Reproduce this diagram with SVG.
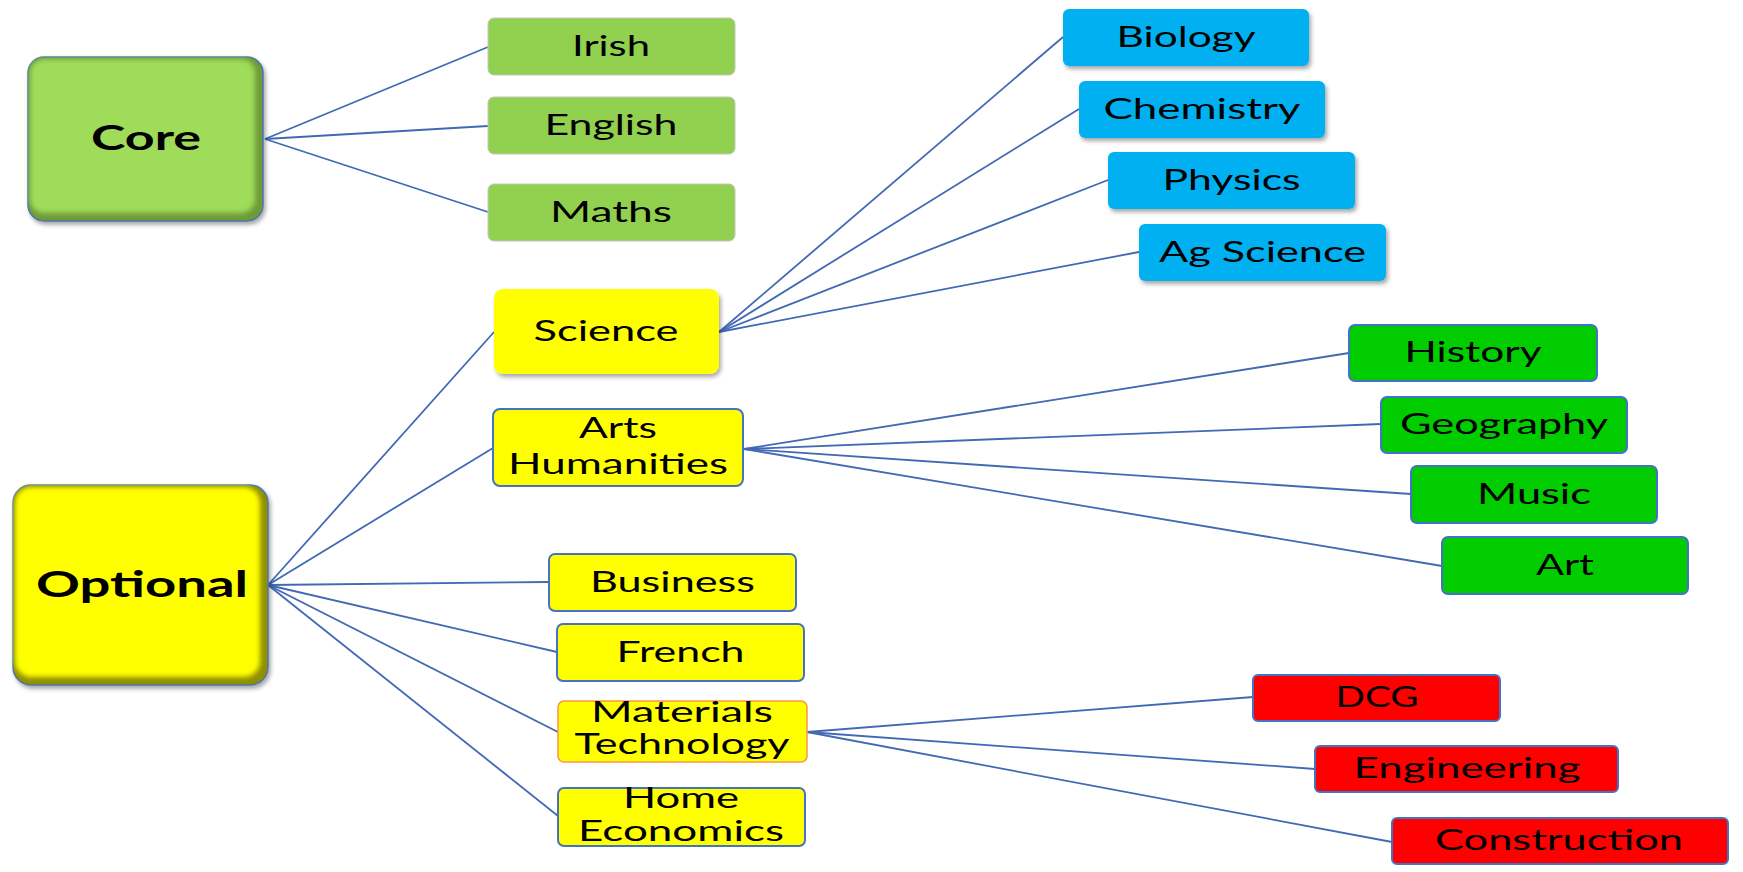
<svg xmlns="http://www.w3.org/2000/svg" width="1743" height="872" viewBox="0 0 1743 872">
<style>
.t{font-family:Lato,"Open Sans","Liberation Sans",sans-serif;font-size:28px;fill:#000;text-anchor:middle}
.b{font-family:Lato,"Open Sans","Liberation Sans",sans-serif;font-weight:bold;fill:#000;text-anchor:middle}
.lg{fill:#92D050;stroke:#C4C4C4;stroke-width:1}
.y{fill:#FFFF00;stroke:#4472C4;stroke-width:2}
.ys{fill:#FFFF00}
.ym{fill:#FFFF00;stroke:#F79646;stroke-width:1.5}
.bl{fill:#00B0F0}
.g{fill:#00CC00;stroke:#4472C4;stroke-width:2}
.r{fill:#FF0000;stroke:#4472C4;stroke-width:2}
#connectors line{stroke:#4169B4;stroke-width:1.8;fill:none}
</style>
<defs>
<filter id="sh" x="-10%" y="-20%" width="125%" height="150%">
<feDropShadow dx="2" dy="3" stdDeviation="2" flood-color="#000" flood-opacity="0.35"/>
</filter>
<filter id="soft" x="-5%" y="-5%" width="110%" height="110%">
<feGaussianBlur stdDeviation="2.5"/>
</filter>
</defs>
<rect width="1743" height="872" fill="#fff"/>
<g id="connectors">
<line x1="265" y1="139" x2="488" y2="47"/>
<line x1="265" y1="139" x2="488" y2="126"/>
<line x1="265" y1="139" x2="488" y2="212"/>
<line x1="268" y1="585" x2="494" y2="332"/>
<line x1="268" y1="585" x2="493" y2="448"/>
<line x1="268" y1="585" x2="549" y2="582"/>
<line x1="268" y1="585" x2="557" y2="652"/>
<line x1="268" y1="585" x2="558" y2="732"/>
<line x1="268" y1="585" x2="558" y2="816"/>
<line x1="719" y1="332" x2="1063" y2="37"/>
<line x1="719" y1="332" x2="1079" y2="109"/>
<line x1="719" y1="332" x2="1108" y2="180"/>
<line x1="719" y1="332" x2="1139" y2="252"/>
<line x1="744" y1="449" x2="1349" y2="353"/>
<line x1="744" y1="449" x2="1381" y2="424"/>
<line x1="744" y1="449" x2="1411" y2="494"/>
<line x1="744" y1="449" x2="1442" y2="566"/>
<line x1="807" y1="732" x2="1253" y2="697"/>
<line x1="807" y1="732" x2="1315" y2="769"/>
<line x1="807" y1="732" x2="1392" y2="842"/>
</g>
<g id="core">
<rect x="28" y="57" width="235" height="164" rx="16" fill="#6E9A38" stroke="#4A76B0" stroke-width="1.5" filter="url(#sh)"/>
<rect x="30" y="59" width="225" height="154" rx="14" fill="#9EDC5A" filter="url(#soft)"/>
<text class="b" x="146" y="150" font-size="35" textLength="110" lengthAdjust="spacingAndGlyphs">Core</text>
</g>
<g id="optional">
<rect x="13" y="485" width="255" height="200" rx="18" fill="#8F8F00" stroke="#4A76B0" stroke-width="1.5" filter="url(#sh)"/>
<rect x="15" y="487" width="245" height="190" rx="16" fill="#FFFF00" filter="url(#soft)"/>
<text class="b" x="142" y="597" font-size="37" textLength="212" lengthAdjust="spacingAndGlyphs">Optional</text>
</g>
<g id="irish"><rect class="lg" x="488" y="18" width="247" height="57" rx="6"/><text class="t" x="611" y="55.5" textLength="78" lengthAdjust="spacingAndGlyphs">Irish</text></g>
<g id="english"><rect class="lg" x="488" y="97" width="247" height="57" rx="6"/><text class="t" x="611" y="134.5" textLength="133" lengthAdjust="spacingAndGlyphs">English</text></g>
<g id="maths"><rect class="lg" x="488" y="184" width="247" height="57" rx="6"/><text class="t" x="611" y="221.5" textLength="122" lengthAdjust="spacingAndGlyphs">Maths</text></g>
<g id="science"><rect class="ys" x="494" y="289" width="225" height="85" rx="9" filter="url(#sh)"/><text class="t" x="606" y="341" textLength="145" lengthAdjust="spacingAndGlyphs">Science</text></g>
<g id="arts"><rect class="y" x="493" y="409" width="250" height="77" rx="7"/><text class="t" x="618" y="438" textLength="78" lengthAdjust="spacingAndGlyphs">Arts</text><text class="t" x="618" y="474" textLength="220" lengthAdjust="spacingAndGlyphs">Humanities</text></g>
<g id="business"><rect class="y" x="549" y="554" width="247" height="57" rx="6"/><text class="t" x="672.5" y="591.5" textLength="165" lengthAdjust="spacingAndGlyphs">Business</text></g>
<g id="french"><rect class="y" x="557" y="624" width="247" height="57" rx="6"/><text class="t" x="680.5" y="661.5" textLength="128" lengthAdjust="spacingAndGlyphs">French</text></g>
<g id="materials"><rect class="ym" x="558" y="701" width="249" height="61" rx="6"/><text class="t" x="682" y="722" textLength="182" lengthAdjust="spacingAndGlyphs">Materials</text><text class="t" x="682" y="754" textLength="215" lengthAdjust="spacingAndGlyphs">Technology</text></g>
<g id="home"><rect class="y" x="558" y="788" width="247" height="58" rx="6"/><text class="t" x="681" y="808" textLength="116" lengthAdjust="spacingAndGlyphs">Home</text><text class="t" x="681" y="841" textLength="206" lengthAdjust="spacingAndGlyphs">Economics</text></g>
<g id="biology"><rect class="bl" x="1063" y="9" width="246" height="57" rx="6" filter="url(#sh)"/><text class="t" x="1186" y="46.5" textLength="139" lengthAdjust="spacingAndGlyphs">Biology</text></g>
<g id="chemistry"><rect class="bl" x="1079" y="81" width="246" height="57" rx="6" filter="url(#sh)"/><text class="t" x="1202" y="118.5" textLength="197" lengthAdjust="spacingAndGlyphs">Chemistry</text></g>
<g id="physics"><rect class="bl" x="1108" y="152" width="247" height="57" rx="6" filter="url(#sh)"/><text class="t" x="1231.5" y="189.5" textLength="138" lengthAdjust="spacingAndGlyphs">Physics</text></g>
<g id="agscience"><rect class="bl" x="1139" y="224" width="247" height="57" rx="6" filter="url(#sh)"/><text class="t" x="1262.5" y="261.5" textLength="207" lengthAdjust="spacingAndGlyphs">Ag Science</text></g>
<g id="history"><rect class="g" x="1349" y="325" width="248" height="56" rx="6"/><text class="t" x="1473" y="362" textLength="137" lengthAdjust="spacingAndGlyphs">History</text></g>
<g id="geography"><rect class="g" x="1381" y="397" width="246" height="56" rx="6"/><text class="t" x="1504" y="434" textLength="208" lengthAdjust="spacingAndGlyphs">Geography</text></g>
<g id="music"><rect class="g" x="1411" y="466" width="246" height="57" rx="6"/><text class="t" x="1534" y="503.5" textLength="114" lengthAdjust="spacingAndGlyphs">Music</text></g>
<g id="art"><rect class="g" x="1442" y="537" width="246" height="57" rx="6"/><text class="t" x="1565" y="574.5" textLength="58" lengthAdjust="spacingAndGlyphs">Art</text></g>
<g id="dcg"><rect class="r" x="1253" y="675" width="247" height="46" rx="5"/><text class="t" x="1377" y="707" textLength="83" lengthAdjust="spacingAndGlyphs">DCG</text></g>
<g id="engineering"><rect class="r" x="1315" y="746" width="303" height="46" rx="5"/><text class="t" x="1467" y="778" textLength="227" lengthAdjust="spacingAndGlyphs">Engineering</text></g>
<g id="construction"><rect class="r" x="1392" y="818" width="336" height="46" rx="5"/><text class="t" x="1559" y="850" textLength="248" lengthAdjust="spacingAndGlyphs">Construction</text></g>
</svg>
